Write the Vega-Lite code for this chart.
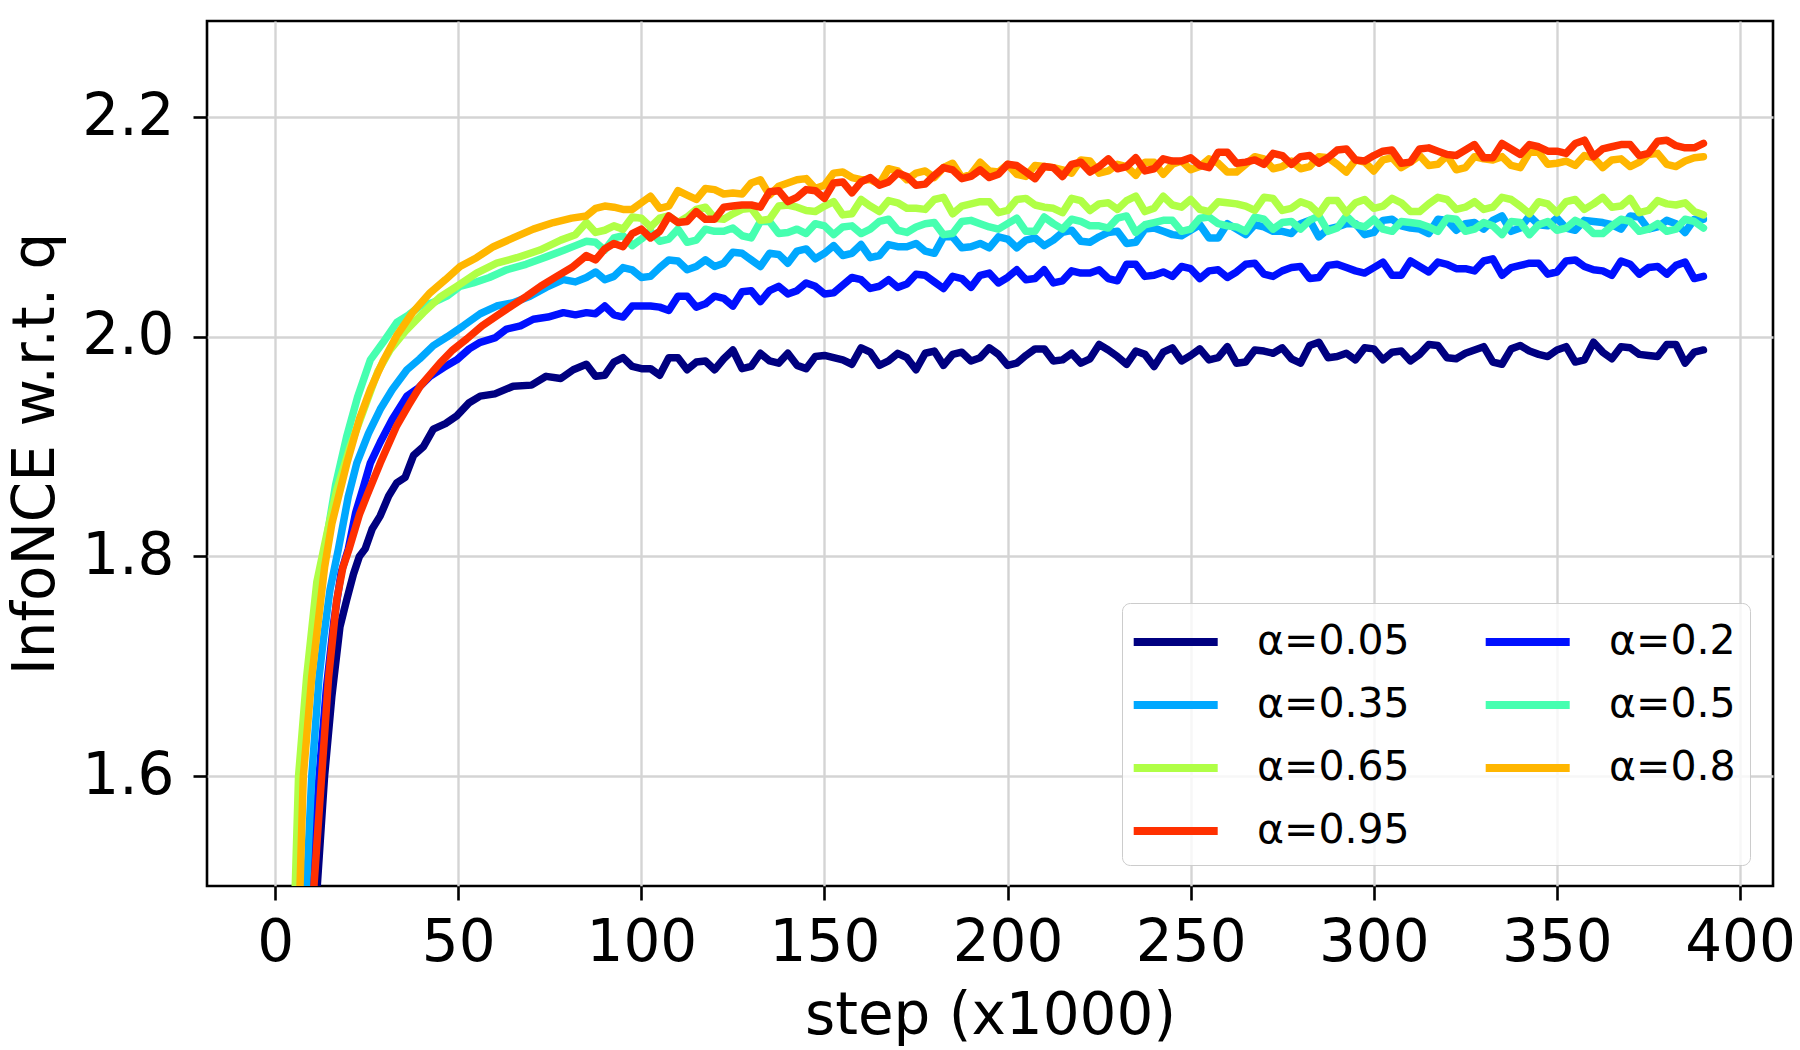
{
  "$schema": "https://vega.github.io/schema/vega-lite/v6.json",
  "width": 1566,
  "height": 865,
  "autosize": "none",
  "padding": {"left": 207, "top": 21, "right": 27, "bottom": 164},
  "background": "white",
  "config": {
    "font": "DejaVu Sans",
    "view": {"stroke": "#000000", "strokeWidth": 2.6},
    "axis": {
      "domain": false,
      "grid": true,
      "gridColor": "#d4d4d4",
      "gridWidth": 2.4,
      "tickColor": "#000000",
      "tickWidth": 2.6,
      "tickSize": 14,
      "labelFont": "DejaVu Sans",
      "labelFontSize": 58,
      "labelColor": "#000000",
      "labelFlush": false,
      "labelOverlap": false,
      "titleFont": "DejaVu Sans",
      "titleFontSize": 58,
      "titleFontWeight": "normal",
      "titleColor": "#000000"
    }
  },
  "data": {"values": [
    {"a":"α=0.05","s":8,"v":1.30},{"a":"α=0.05","s":11.5,"v":1.50},{"a":"α=0.05","s":13.5,"v":1.60},{"a":"α=0.05","s":15.5,"v":1.673},
    {"a":"α=0.05","s":17.7,"v":1.736},{"a":"α=0.05","s":19.5,"v":1.760},{"a":"α=0.05","s":21.4,"v":1.784},{"a":"α=0.05","s":23,"v":1.800},
    {"a":"α=0.05","s":24.6,"v":1.807},{"a":"α=0.05","s":26.5,"v":1.825},{"a":"α=0.05","s":28.7,"v":1.837},{"a":"α=0.05","s":31,"v":1.855},
    {"a":"α=0.05","s":33.2,"v":1.867},{"a":"α=0.05","s":35.5,"v":1.872},{"a":"α=0.05","s":37.8,"v":1.892},{"a":"α=0.05","s":40.5,"v":1.900},
    {"a":"α=0.05","s":43.2,"v":1.916},{"a":"α=0.05","s":46.5,"v":1.921},{"a":"α=0.05","s":49.6,"v":1.928},{"a":"α=0.05","s":53,"v":1.940},
    {"a":"α=0.05","s":56,"v":1.946},{"a":"α=0.05","s":60,"v":1.948},{"a":"α=0.05","s":65,"v":1.955},{"a":"α=0.05","s":70,"v":1.956},
    {"a":"α=0.05","s":74,"v":1.964},{"a":"α=0.05","s":78,"v":1.962},{"a":"α=0.05","s":81.4,"v":1.970},
    {"a":"α=0.05","s":85,"v":1.975},{"a":"α=0.05","s":90,"v":1.965},{"a":"α=0.05","s":95,"v":1.981},{"a":"α=0.05","s":100,"v":1.971},
    {"a":"α=0.05","s":105,"v":1.965},{"a":"α=0.05","s":110,"v":1.981},{"a":"α=0.05","s":115,"v":1.977},{"a":"α=0.05","s":120,"v":1.970},
    {"a":"α=0.05","s":125,"v":1.988},{"a":"α=0.05","s":130,"v":1.973},{"a":"α=0.05","s":135,"v":1.978},{"a":"α=0.05","s":140,"v":1.985},
    {"a":"α=0.05","s":145,"v":1.971},{"a":"α=0.05","s":150,"v":1.983},{"a":"α=0.05","s":155,"v":1.979},{"a":"α=0.05","s":160,"v":1.990},
    {"a":"α=0.05","s":165,"v":1.974},{"a":"α=0.05","s":170,"v":1.985},{"a":"α=0.05","s":175,"v":1.970},{"a":"α=0.05","s":180,"v":1.987},
    {"a":"α=0.05","s":185,"v":1.984},{"a":"α=0.05","s":190,"v":1.978},{"a":"α=0.05","s":195,"v":1.990},{"a":"α=0.05","s":200,"v":1.974},
    {"a":"α=0.05","s":205,"v":1.983},{"a":"α=0.05","s":210,"v":1.989},{"a":"α=0.05","s":215,"v":1.979},{"a":"α=0.05","s":220,"v":1.976},
    {"a":"α=0.05","s":225,"v":1.993},{"a":"α=0.05","s":230,"v":1.982},{"a":"α=0.05","s":235,"v":1.987},{"a":"α=0.05","s":240,"v":1.973},
    {"a":"α=0.05","s":245,"v":1.990},{"a":"α=0.05","s":250,"v":1.983},{"a":"α=0.05","s":255,"v":1.979},{"a":"α=0.05","s":260,"v":1.991},
    {"a":"α=0.05","s":265,"v":1.977},{"a":"α=0.05","s":270,"v":1.987},{"a":"α=0.05","s":275,"v":1.990},{"a":"α=0.05","s":280,"v":1.976},
    {"a":"α=0.05","s":285,"v":1.995},{"a":"α=0.05","s":290,"v":1.982},{"a":"α=0.05","s":295,"v":1.979},{"a":"α=0.05","s":300,"v":1.989},
    {"a":"α=0.05","s":305,"v":1.986},{"a":"α=0.05","s":310,"v":1.978},{"a":"α=0.05","s":315,"v":1.993},{"a":"α=0.05","s":320,"v":1.981},
    {"a":"α=0.05","s":325,"v":1.985},{"a":"α=0.05","s":330,"v":1.991},{"a":"α=0.05","s":335,"v":1.975},{"a":"α=0.05","s":340,"v":1.992},
    {"a":"α=0.05","s":345,"v":1.984},{"a":"α=0.05","s":350,"v":1.988},{"a":"α=0.05","s":355,"v":1.977},{"a":"α=0.05","s":360,"v":1.995},
    {"a":"α=0.05","s":365,"v":1.980},{"a":"α=0.05","s":370,"v":1.990},{"a":"α=0.05","s":375,"v":1.983},{"a":"α=0.05","s":380,"v":1.993},
    {"a":"α=0.05","s":385,"v":1.976},{"a":"α=0.05","s":390,"v":1.988},
    {"a":"α=0.05","s":87.5,"v":1.964},{"a":"α=0.05","s":92.5,"v":1.977},{"a":"α=0.05","s":97.5,"v":1.973},{"a":"α=0.05","s":102.5,"v":1.971},
    {"a":"α=0.05","s":107.5,"v":1.981},{"a":"α=0.05","s":112.5,"v":1.970},{"a":"α=0.05","s":117.5,"v":1.978},{"a":"α=0.05","s":122.5,"v":1.980},
    {"a":"α=0.05","s":127.5,"v":1.971},{"a":"α=0.05","s":132.5,"v":1.985},{"a":"α=0.05","s":137.5,"v":1.976},{"a":"α=0.05","s":142.5,"v":1.974},
    {"a":"α=0.05","s":147.5,"v":1.982},{"a":"α=0.05","s":152.5,"v":1.981},{"a":"α=0.05","s":157.5,"v":1.975},{"a":"α=0.05","s":162.5,"v":1.986},
    {"a":"α=0.05","s":167.5,"v":1.978},{"a":"α=0.05","s":172.5,"v":1.981},{"a":"α=0.05","s":177.5,"v":1.985},{"a":"α=0.05","s":182.5,"v":1.974},
    {"a":"α=0.05","s":187.5,"v":1.986},{"a":"α=0.05","s":192.5,"v":1.981},{"a":"α=0.05","s":197.5,"v":1.984},{"a":"α=0.05","s":202.5,"v":1.976},
    {"a":"α=0.05","s":207.5,"v":1.989},{"a":"α=0.05","s":212.5,"v":1.978},{"a":"α=0.05","s":217.5,"v":1.985},{"a":"α=0.05","s":222.5,"v":1.980},
    {"a":"α=0.05","s":227.5,"v":1.988},{"a":"α=0.05","s":232.5,"v":1.975},{"a":"α=0.05","s":237.5,"v":1.984},{"a":"α=0.05","s":242.5,"v":1.986},
    {"a":"α=0.05","s":247.5,"v":1.978},{"a":"α=0.05","s":252.5,"v":1.989},{"a":"α=0.05","s":257.5,"v":1.981},{"a":"α=0.05","s":262.5,"v":1.976},
    {"a":"α=0.05","s":267.5,"v":1.988},{"a":"α=0.05","s":272.5,"v":1.985},{"a":"α=0.05","s":277.5,"v":1.980},{"a":"α=0.05","s":282.5,"v":1.992},
    {"a":"α=0.05","s":287.5,"v":1.981},{"a":"α=0.05","s":292.5,"v":1.985},{"a":"α=0.05","s":297.5,"v":1.990},{"a":"α=0.05","s":302.5,"v":1.979},
    {"a":"α=0.05","s":307.5,"v":1.987},{"a":"α=0.05","s":312.5,"v":1.984},{"a":"α=0.05","s":317.5,"v":1.992},{"a":"α=0.05","s":322.5,"v":1.980},
    {"a":"α=0.05","s":327.5,"v":1.988},{"a":"α=0.05","s":332.5,"v":1.977},{"a":"α=0.05","s":337.5,"v":1.989},{"a":"α=0.05","s":342.5,"v":1.987},
    {"a":"α=0.05","s":347.5,"v":1.982},{"a":"α=0.05","s":352.5,"v":1.991},{"a":"α=0.05","s":357.5,"v":1.979},{"a":"α=0.05","s":362.5,"v":1.986},
    {"a":"α=0.05","s":367.5,"v":1.991},{"a":"α=0.05","s":372.5,"v":1.984},{"a":"α=0.05","s":377.5,"v":1.982},{"a":"α=0.05","s":382.5,"v":1.993},
    {"a":"α=0.05","s":387.5,"v":1.986},

    {"a":"α=0.2","s":7,"v":1.30},{"a":"α=0.2","s":10,"v":1.50},{"a":"α=0.2","s":12,"v":1.60},{"a":"α=0.2","s":14,"v":1.68},
    {"a":"α=0.2","s":16,"v":1.74},{"a":"α=0.2","s":18,"v":1.785},{"a":"α=0.2","s":20,"v":1.807},{"a":"α=0.2","s":22,"v":1.840},
    {"a":"α=0.2","s":24,"v":1.862},{"a":"α=0.2","s":26,"v":1.885},{"a":"α=0.2","s":28.7,"v":1.904},{"a":"α=0.2","s":32,"v":1.925},
    {"a":"α=0.2","s":36,"v":1.946},{"a":"α=0.2","s":39,"v":1.953},{"a":"α=0.2","s":42.3,"v":1.964},{"a":"α=0.2","s":46,"v":1.972},
    {"a":"α=0.2","s":49.6,"v":1.979},{"a":"α=0.2","s":53,"v":1.989},{"a":"α=0.2","s":56,"v":1.995},{"a":"α=0.2","s":60,"v":1.999},
    {"a":"α=0.2","s":63.2,"v":2.007},{"a":"α=0.2","s":67,"v":2.010},{"a":"α=0.2","s":70.5,"v":2.016},{"a":"α=0.2","s":74.5,"v":2.018},
    {"a":"α=0.2","s":78.7,"v":2.022},{"a":"α=0.2","s":82,"v":2.020},
    {"a":"α=0.2","s":85,"v":2.022},{"a":"α=0.2","s":90,"v":2.028},{"a":"α=0.2","s":95,"v":2.018},{"a":"α=0.2","s":100,"v":2.028},
    {"a":"α=0.2","s":105,"v":2.027},{"a":"α=0.2","s":110,"v":2.037},{"a":"α=0.2","s":115,"v":2.027},{"a":"α=0.2","s":120,"v":2.037},
    {"a":"α=0.2","s":125,"v":2.028},{"a":"α=0.2","s":130,"v":2.042},{"a":"α=0.2","s":135,"v":2.042},{"a":"α=0.2","s":140,"v":2.039},
    {"a":"α=0.2","s":145,"v":2.049},{"a":"α=0.2","s":150,"v":2.039},{"a":"α=0.2","s":155,"v":2.047},{"a":"α=0.2","s":160,"v":2.052},
    {"a":"α=0.2","s":165,"v":2.046},{"a":"α=0.2","s":170,"v":2.045},{"a":"α=0.2","s":175,"v":2.057},{"a":"α=0.2","s":180,"v":2.050},
    {"a":"α=0.2","s":185,"v":2.055},{"a":"α=0.2","s":190,"v":2.045},{"a":"α=0.2","s":195,"v":2.058},{"a":"α=0.2","s":200,"v":2.054},
    {"a":"α=0.2","s":205,"v":2.052},{"a":"α=0.2","s":210,"v":2.061},{"a":"α=0.2","s":215,"v":2.051},{"a":"α=0.2","s":220,"v":2.058},
    {"a":"α=0.2","s":225,"v":2.061},{"a":"α=0.2","s":230,"v":2.051},{"a":"α=0.2","s":235,"v":2.066},{"a":"α=0.2","s":240,"v":2.056},
    {"a":"α=0.2","s":245,"v":2.055},{"a":"α=0.2","s":250,"v":2.062},{"a":"α=0.2","s":255,"v":2.060},{"a":"α=0.2","s":260,"v":2.054},
    {"a":"α=0.2","s":265,"v":2.066},{"a":"α=0.2","s":270,"v":2.057},{"a":"α=0.2","s":275,"v":2.060},{"a":"α=0.2","s":280,"v":2.064},
    {"a":"α=0.2","s":285,"v":2.054},{"a":"α=0.2","s":290,"v":2.066},{"a":"α=0.2","s":295,"v":2.060},{"a":"α=0.2","s":300,"v":2.063},
    {"a":"α=0.2","s":305,"v":2.056},{"a":"α=0.2","s":310,"v":2.069},{"a":"α=0.2","s":315,"v":2.059},{"a":"α=0.2","s":320,"v":2.066},
    {"a":"α=0.2","s":325,"v":2.062},{"a":"α=0.2","s":330,"v":2.069},{"a":"α=0.2","s":335,"v":2.056},{"a":"α=0.2","s":340,"v":2.065},
    {"a":"α=0.2","s":345,"v":2.067},{"a":"α=0.2","s":350,"v":2.059},{"a":"α=0.2","s":355,"v":2.070},{"a":"α=0.2","s":360,"v":2.061},
    {"a":"α=0.2","s":365,"v":2.056},{"a":"α=0.2","s":370,"v":2.066},{"a":"α=0.2","s":375,"v":2.063},{"a":"α=0.2","s":380,"v":2.057},
    {"a":"α=0.2","s":385,"v":2.068},{"a":"α=0.2","s":390,"v":2.055},
    {"a":"α=0.2","s":87.5,"v":2.021},{"a":"α=0.2","s":92.5,"v":2.020},{"a":"α=0.2","s":97.5,"v":2.028},{"a":"α=0.2","s":102.5,"v":2.028},
    {"a":"α=0.2","s":107.5,"v":2.024},{"a":"α=0.2","s":112.5,"v":2.037},{"a":"α=0.2","s":117.5,"v":2.030},{"a":"α=0.2","s":122.5,"v":2.035},
    {"a":"α=0.2","s":127.5,"v":2.041},{"a":"α=0.2","s":132.5,"v":2.032},{"a":"α=0.2","s":137.5,"v":2.046},{"a":"α=0.2","s":142.5,"v":2.042},
    {"a":"α=0.2","s":147.5,"v":2.046},{"a":"α=0.2","s":152.5,"v":2.040},{"a":"α=0.2","s":157.5,"v":2.054},{"a":"α=0.2","s":162.5,"v":2.044},
    {"a":"α=0.2","s":167.5,"v":2.052},{"a":"α=0.2","s":172.5,"v":2.048},{"a":"α=0.2","s":177.5,"v":2.056},{"a":"α=0.2","s":182.5,"v":2.044},
    {"a":"α=0.2","s":187.5,"v":2.053},{"a":"α=0.2","s":192.5,"v":2.056},{"a":"α=0.2","s":197.5,"v":2.049},{"a":"α=0.2","s":202.5,"v":2.061},
    {"a":"α=0.2","s":207.5,"v":2.053},{"a":"α=0.2","s":212.5,"v":2.049},{"a":"α=0.2","s":217.5,"v":2.060},{"a":"α=0.2","s":222.5,"v":2.058},
    {"a":"α=0.2","s":227.5,"v":2.053},{"a":"α=0.2","s":232.5,"v":2.066},{"a":"α=0.2","s":237.5,"v":2.055},{"a":"α=0.2","s":242.5,"v":2.059},
    {"a":"α=0.2","s":247.5,"v":2.064},{"a":"α=0.2","s":252.5,"v":2.053},{"a":"α=0.2","s":257.5,"v":2.061},{"a":"α=0.2","s":262.5,"v":2.059},
    {"a":"α=0.2","s":267.5,"v":2.067},{"a":"α=0.2","s":272.5,"v":2.055},{"a":"α=0.2","s":277.5,"v":2.063},{"a":"α=0.2","s":282.5,"v":2.053},
    {"a":"α=0.2","s":287.5,"v":2.065},{"a":"α=0.2","s":292.5,"v":2.063},{"a":"α=0.2","s":297.5,"v":2.058},{"a":"α=0.2","s":302.5,"v":2.068},
    {"a":"α=0.2","s":307.5,"v":2.056},{"a":"α=0.2","s":312.5,"v":2.064},{"a":"α=0.2","s":317.5,"v":2.068},{"a":"α=0.2","s":322.5,"v":2.062},
    {"a":"α=0.2","s":327.5,"v":2.060},{"a":"α=0.2","s":332.5,"v":2.071},{"a":"α=0.2","s":337.5,"v":2.063},{"a":"α=0.2","s":342.5,"v":2.067},
    {"a":"α=0.2","s":347.5,"v":2.057},{"a":"α=0.2","s":352.5,"v":2.069},{"a":"α=0.2","s":357.5,"v":2.064},{"a":"α=0.2","s":362.5,"v":2.060},
    {"a":"α=0.2","s":367.5,"v":2.069},{"a":"α=0.2","s":372.5,"v":2.057},{"a":"α=0.2","s":377.5,"v":2.064},{"a":"α=0.2","s":382.5,"v":2.065},
    {"a":"α=0.2","s":387.5,"v":2.053},

    {"a":"α=0.35","s":6,"v":1.30},{"a":"α=0.35","s":8.6,"v":1.50},{"a":"α=0.35","s":10,"v":1.60},{"a":"α=0.35","s":12,"v":1.69},
    {"a":"α=0.35","s":13.2,"v":1.725},{"a":"α=0.35","s":15,"v":1.77},{"a":"α=0.35","s":17.3,"v":1.807},{"a":"α=0.35","s":20,"v":1.855},
    {"a":"α=0.35","s":22.3,"v":1.885},{"a":"α=0.35","s":25.5,"v":1.912},{"a":"α=0.35","s":28.7,"v":1.934},{"a":"α=0.35","s":32,"v":1.952},
    {"a":"α=0.35","s":36,"v":1.970},{"a":"α=0.35","s":39.5,"v":1.980},{"a":"α=0.35","s":43.2,"v":1.992},{"a":"α=0.35","s":47,"v":2.000},
    {"a":"α=0.35","s":51.4,"v":2.010},{"a":"α=0.35","s":56,"v":2.021},{"a":"α=0.35","s":60.5,"v":2.028},{"a":"α=0.35","s":65,"v":2.031},
    {"a":"α=0.35","s":69.6,"v":2.037},{"a":"α=0.35","s":74,"v":2.045},{"a":"α=0.35","s":78.7,"v":2.052},{"a":"α=0.35","s":82,"v":2.050},
    {"a":"α=0.35","s":85,"v":2.054},{"a":"α=0.35","s":90,"v":2.052},{"a":"α=0.35","s":95,"v":2.063},{"a":"α=0.35","s":100,"v":2.054},
    {"a":"α=0.35","s":105,"v":2.063},{"a":"α=0.35","s":110,"v":2.069},{"a":"α=0.35","s":115,"v":2.064},{"a":"α=0.35","s":120,"v":2.064},
    {"a":"α=0.35","s":125,"v":2.077},{"a":"α=0.35","s":130,"v":2.070},{"a":"α=0.35","s":135,"v":2.076},{"a":"α=0.35","s":140,"v":2.067},
    {"a":"α=0.35","s":145,"v":2.080},{"a":"α=0.35","s":150,"v":2.076},{"a":"α=0.35","s":155,"v":2.074},{"a":"α=0.35","s":160,"v":2.084},
    {"a":"α=0.35","s":165,"v":2.074},{"a":"α=0.35","s":170,"v":2.082},{"a":"α=0.35","s":175,"v":2.085},{"a":"α=0.35","s":180,"v":2.076},
    {"a":"α=0.35","s":185,"v":2.091},{"a":"α=0.35","s":190,"v":2.082},{"a":"α=0.35","s":195,"v":2.081},{"a":"α=0.35","s":200,"v":2.089},
    {"a":"α=0.35","s":205,"v":2.088},{"a":"α=0.35","s":210,"v":2.083},{"a":"α=0.35","s":215,"v":2.095},{"a":"α=0.35","s":220,"v":2.087},
    {"a":"α=0.35","s":225,"v":2.091},{"a":"α=0.35","s":230,"v":2.096},{"a":"α=0.35","s":235,"v":2.086},{"a":"α=0.35","s":240,"v":2.099},
    {"a":"α=0.35","s":245,"v":2.093},{"a":"α=0.35","s":250,"v":2.097},{"a":"α=0.35","s":255,"v":2.090},{"a":"α=0.35","s":260,"v":2.103},
    {"a":"α=0.35","s":265,"v":2.093},{"a":"α=0.35","s":270,"v":2.100},{"a":"α=0.35","s":275,"v":2.096},{"a":"α=0.35","s":280,"v":2.103},
    {"a":"α=0.35","s":285,"v":2.091},{"a":"α=0.35","s":290,"v":2.100},{"a":"α=0.35","s":295,"v":2.103},{"a":"α=0.35","s":300,"v":2.095},
    {"a":"α=0.35","s":305,"v":2.107},{"a":"α=0.35","s":310,"v":2.099},{"a":"α=0.35","s":315,"v":2.094},{"a":"α=0.35","s":320,"v":2.106},
    {"a":"α=0.35","s":325,"v":2.103},{"a":"α=0.35","s":330,"v":2.098},{"a":"α=0.35","s":335,"v":2.110},{"a":"α=0.35","s":340,"v":2.099},
    {"a":"α=0.35","s":345,"v":2.102},{"a":"α=0.35","s":350,"v":2.108},{"a":"α=0.35","s":355,"v":2.097},{"a":"α=0.35","s":360,"v":2.105},
    {"a":"α=0.35","s":365,"v":2.102},{"a":"α=0.35","s":370,"v":2.110},{"a":"α=0.35","s":375,"v":2.098},{"a":"α=0.35","s":380,"v":2.106},
    {"a":"α=0.35","s":385,"v":2.095},{"a":"α=0.35","s":390,"v":2.107},
    {"a":"α=0.35","s":87.5,"v":2.059},{"a":"α=0.35","s":92.5,"v":2.055},{"a":"α=0.35","s":97.5,"v":2.061},{"a":"α=0.35","s":102.5,"v":2.055},
    {"a":"α=0.35","s":107.5,"v":2.070},{"a":"α=0.35","s":112.5,"v":2.061},{"a":"α=0.35","s":117.5,"v":2.070},{"a":"α=0.35","s":122.5,"v":2.067},
    {"a":"α=0.35","s":127.5,"v":2.076},{"a":"α=0.35","s":132.5,"v":2.064},{"a":"α=0.35","s":137.5,"v":2.075},{"a":"α=0.35","s":142.5,"v":2.078},
    {"a":"α=0.35","s":147.5,"v":2.071},{"a":"α=0.35","s":152.5,"v":2.083},{"a":"α=0.35","s":157.5,"v":2.076},{"a":"α=0.35","s":162.5,"v":2.072},
    {"a":"α=0.35","s":167.5,"v":2.084},{"a":"α=0.35","s":172.5,"v":2.082},{"a":"α=0.35","s":177.5,"v":2.078},{"a":"α=0.35","s":182.5,"v":2.091},
    {"a":"α=0.35","s":187.5,"v":2.081},{"a":"α=0.35","s":192.5,"v":2.085},{"a":"α=0.35","s":197.5,"v":2.091},{"a":"α=0.35","s":202.5,"v":2.081},
    {"a":"α=0.35","s":207.5,"v":2.090},{"a":"α=0.35","s":212.5,"v":2.088},{"a":"α=0.35","s":217.5,"v":2.097},{"a":"α=0.35","s":222.5,"v":2.086},
    {"a":"α=0.35","s":227.5,"v":2.095},{"a":"α=0.35","s":232.5,"v":2.085},{"a":"α=0.35","s":237.5,"v":2.098},{"a":"α=0.35","s":242.5,"v":2.096},
    {"a":"α=0.35","s":247.5,"v":2.092},{"a":"α=0.35","s":252.5,"v":2.102},{"a":"α=0.35","s":257.5,"v":2.090},{"a":"α=0.35","s":262.5,"v":2.098},
    {"a":"α=0.35","s":267.5,"v":2.102},{"a":"α=0.35","s":272.5,"v":2.096},{"a":"α=0.35","s":277.5,"v":2.094},{"a":"α=0.35","s":282.5,"v":2.106},
    {"a":"α=0.35","s":287.5,"v":2.098},{"a":"α=0.35","s":292.5,"v":2.103},{"a":"α=0.35","s":297.5,"v":2.093},{"a":"α=0.35","s":302.5,"v":2.106},
    {"a":"α=0.35","s":307.5,"v":2.101},{"a":"α=0.35","s":312.5,"v":2.098},{"a":"α=0.35","s":317.5,"v":2.107},{"a":"α=0.35","s":322.5,"v":2.097},
    {"a":"α=0.35","s":327.5,"v":2.104},{"a":"α=0.35","s":332.5,"v":2.106},{"a":"α=0.35","s":337.5,"v":2.096},{"a":"α=0.35","s":342.5,"v":2.110},
    {"a":"α=0.35","s":347.5,"v":2.101},{"a":"α=0.35","s":352.5,"v":2.099},{"a":"α=0.35","s":357.5,"v":2.106},{"a":"α=0.35","s":362.5,"v":2.104},
    {"a":"α=0.35","s":367.5,"v":2.098},{"a":"α=0.35","s":372.5,"v":2.109},{"a":"α=0.35","s":377.5,"v":2.100},{"a":"α=0.35","s":382.5,"v":2.103},
    {"a":"α=0.35","s":387.5,"v":2.107},

    {"a":"α=0.5","s":4.5,"v":1.30},{"a":"α=0.5","s":6.3,"v":1.50},{"a":"α=0.5","s":7.3,"v":1.60},{"a":"α=0.5","s":9.5,"v":1.69},
    {"a":"α=0.5","s":11.8,"v":1.76},{"a":"α=0.5","s":13.6,"v":1.807},{"a":"α=0.5","s":16.5,"v":1.865},{"a":"α=0.5","s":19.6,"v":1.910},
    {"a":"α=0.5","s":22.5,"v":1.945},{"a":"α=0.5","s":26,"v":1.979},{"a":"α=0.5","s":29.5,"v":1.995},{"a":"α=0.5","s":33.2,"v":2.013},
    {"a":"α=0.5","s":36.5,"v":2.020},{"a":"α=0.5","s":39.6,"v":2.028},{"a":"α=0.5","s":43,"v":2.031},{"a":"α=0.5","s":46.9,"v":2.037},
    {"a":"α=0.5","s":50.5,"v":2.046},{"a":"α=0.5","s":54.1,"v":2.049},{"a":"α=0.5","s":58.5,"v":2.054},{"a":"α=0.5","s":63.2,"v":2.061},
    {"a":"α=0.5","s":68.5,"v":2.066},{"a":"α=0.5","s":74.2,"v":2.073},{"a":"α=0.5","s":79,"v":2.079},{"a":"α=0.5","s":82,"v":2.083},
    {"a":"α=0.5","s":85,"v":2.087},{"a":"α=0.5","s":90,"v":2.079},{"a":"α=0.5","s":95,"v":2.092},{"a":"α=0.5","s":100,"v":2.089},
    {"a":"α=0.5","s":105,"v":2.087},{"a":"α=0.5","s":110,"v":2.098},{"a":"α=0.5","s":115,"v":2.088},{"a":"α=0.5","s":120,"v":2.096},
    {"a":"α=0.5","s":125,"v":2.099},{"a":"α=0.5","s":130,"v":2.090},{"a":"α=0.5","s":135,"v":2.105},{"a":"α=0.5","s":140,"v":2.095},
    {"a":"α=0.5","s":145,"v":2.094},{"a":"α=0.5","s":150,"v":2.101},{"a":"α=0.5","s":155,"v":2.100},{"a":"α=0.5","s":160,"v":2.094},
    {"a":"α=0.5","s":165,"v":2.105},{"a":"α=0.5","s":170,"v":2.097},{"a":"α=0.5","s":175,"v":2.100},{"a":"α=0.5","s":180,"v":2.104},
    {"a":"α=0.5","s":185,"v":2.094},{"a":"α=0.5","s":190,"v":2.106},{"a":"α=0.5","s":195,"v":2.100},{"a":"α=0.5","s":200,"v":2.103},
    {"a":"α=0.5","s":205,"v":2.096},{"a":"α=0.5","s":210,"v":2.109},{"a":"α=0.5","s":215,"v":2.098},{"a":"α=0.5","s":220,"v":2.105},
    {"a":"α=0.5","s":225,"v":2.101},{"a":"α=0.5","s":230,"v":2.108},{"a":"α=0.5","s":235,"v":2.095},{"a":"α=0.5","s":240,"v":2.104},
    {"a":"α=0.5","s":245,"v":2.106},{"a":"α=0.5","s":250,"v":2.098},{"a":"α=0.5","s":255,"v":2.109},{"a":"α=0.5","s":260,"v":2.101},
    {"a":"α=0.5","s":265,"v":2.096},{"a":"α=0.5","s":270,"v":2.107},{"a":"α=0.5","s":275,"v":2.104},{"a":"α=0.5","s":280,"v":2.098},
    {"a":"α=0.5","s":285,"v":2.110},{"a":"α=0.5","s":290,"v":2.099},{"a":"α=0.5","s":295,"v":2.102},{"a":"α=0.5","s":300,"v":2.107},
    {"a":"α=0.5","s":305,"v":2.096},{"a":"α=0.5","s":310,"v":2.104},{"a":"α=0.5","s":315,"v":2.100},{"a":"α=0.5","s":320,"v":2.108},
    {"a":"α=0.5","s":325,"v":2.096},{"a":"α=0.5","s":330,"v":2.104},{"a":"α=0.5","s":335,"v":2.093},{"a":"α=0.5","s":340,"v":2.104},
    {"a":"α=0.5","s":345,"v":2.102},{"a":"α=0.5","s":350,"v":2.097},{"a":"α=0.5","s":355,"v":2.106},{"a":"α=0.5","s":360,"v":2.094},
    {"a":"α=0.5","s":365,"v":2.101},{"a":"α=0.5","s":370,"v":2.105},{"a":"α=0.5","s":375,"v":2.098},{"a":"α=0.5","s":380,"v":2.096},
    {"a":"α=0.5","s":385,"v":2.107},{"a":"α=0.5","s":390,"v":2.099},
    {"a":"α=0.5","s":87.5,"v":2.086},{"a":"α=0.5","s":92.5,"v":2.090},{"a":"α=0.5","s":97.5,"v":2.083},{"a":"α=0.5","s":102.5,"v":2.096},
    {"a":"α=0.5","s":107.5,"v":2.089},{"a":"α=0.5","s":112.5,"v":2.086},{"a":"α=0.5","s":117.5,"v":2.098},{"a":"α=0.5","s":122.5,"v":2.096},
    {"a":"α=0.5","s":127.5,"v":2.092},{"a":"α=0.5","s":132.5,"v":2.105},{"a":"α=0.5","s":137.5,"v":2.094},{"a":"α=0.5","s":142.5,"v":2.098},
    {"a":"α=0.5","s":147.5,"v":2.103},{"a":"α=0.5","s":152.5,"v":2.093},{"a":"α=0.5","s":157.5,"v":2.101},{"a":"α=0.5","s":162.5,"v":2.098},
    {"a":"α=0.5","s":167.5,"v":2.107},{"a":"α=0.5","s":172.5,"v":2.095},{"a":"α=0.5","s":177.5,"v":2.103},{"a":"α=0.5","s":182.5,"v":2.093},
    {"a":"α=0.5","s":187.5,"v":2.105},{"a":"α=0.5","s":192.5,"v":2.103},{"a":"α=0.5","s":197.5,"v":2.098},{"a":"α=0.5","s":202.5,"v":2.108},
    {"a":"α=0.5","s":207.5,"v":2.096},{"a":"α=0.5","s":212.5,"v":2.103},{"a":"α=0.5","s":217.5,"v":2.107},{"a":"α=0.5","s":222.5,"v":2.101},
    {"a":"α=0.5","s":227.5,"v":2.099},{"a":"α=0.5","s":232.5,"v":2.110},{"a":"α=0.5","s":237.5,"v":2.102},{"a":"α=0.5","s":242.5,"v":2.106},
    {"a":"α=0.5","s":247.5,"v":2.096},{"a":"α=0.5","s":252.5,"v":2.108},{"a":"α=0.5","s":257.5,"v":2.103},{"a":"α=0.5","s":262.5,"v":2.100},
    {"a":"α=0.5","s":267.5,"v":2.109},{"a":"α=0.5","s":272.5,"v":2.098},{"a":"α=0.5","s":277.5,"v":2.105},{"a":"α=0.5","s":282.5,"v":2.106},
    {"a":"α=0.5","s":287.5,"v":2.096},{"a":"α=0.5","s":292.5,"v":2.110},{"a":"α=0.5","s":297.5,"v":2.100},{"a":"α=0.5","s":302.5,"v":2.098},
    {"a":"α=0.5","s":307.5,"v":2.105},{"a":"α=0.5","s":312.5,"v":2.103},{"a":"α=0.5","s":317.5,"v":2.096},{"a":"α=0.5","s":322.5,"v":2.107},
    {"a":"α=0.5","s":327.5,"v":2.098},{"a":"α=0.5","s":332.5,"v":2.101},{"a":"α=0.5","s":337.5,"v":2.105},{"a":"α=0.5","s":342.5,"v":2.093},
    {"a":"α=0.5","s":347.5,"v":2.105},{"a":"α=0.5","s":352.5,"v":2.099},{"a":"α=0.5","s":357.5,"v":2.102},{"a":"α=0.5","s":362.5,"v":2.094},
    {"a":"α=0.5","s":367.5,"v":2.107},{"a":"α=0.5","s":372.5,"v":2.096},{"a":"α=0.5","s":377.5,"v":2.103},{"a":"α=0.5","s":382.5,"v":2.098},
    {"a":"α=0.5","s":387.5,"v":2.105},

    {"a":"α=0.65","s":3.5,"v":1.30},{"a":"α=0.65","s":5.5,"v":1.50},{"a":"α=0.65","s":6.4,"v":1.60},{"a":"α=0.65","s":8.6,"v":1.69},
    {"a":"α=0.65","s":11.4,"v":1.777},{"a":"α=0.65","s":14.1,"v":1.820},{"a":"α=0.65","s":16.8,"v":1.860},{"a":"α=0.65","s":20.5,"v":1.900},
    {"a":"α=0.65","s":25,"v":1.941},{"a":"α=0.65","s":28,"v":1.968},{"a":"α=0.65","s":31.4,"v":1.988},{"a":"α=0.65","s":35.5,"v":2.005},
    {"a":"α=0.65","s":40.5,"v":2.022},{"a":"α=0.65","s":45,"v":2.036},{"a":"α=0.65","s":49.6,"v":2.046},{"a":"α=0.65","s":55,"v":2.058},
    {"a":"α=0.65","s":60.5,"v":2.067},{"a":"α=0.65","s":66,"v":2.072},{"a":"α=0.65","s":72.3,"v":2.079},{"a":"α=0.65","s":78,"v":2.088},
    {"a":"α=0.65","s":82,"v":2.093},
    {"a":"α=0.65","s":85,"v":2.104},{"a":"α=0.65","s":90,"v":2.097},{"a":"α=0.65","s":95,"v":2.098},{"a":"α=0.65","s":100,"v":2.108},
    {"a":"α=0.65","s":105,"v":2.108},{"a":"α=0.65","s":110,"v":2.104},{"a":"α=0.65","s":115,"v":2.116},{"a":"α=0.65","s":120,"v":2.108},
    {"a":"α=0.65","s":125,"v":2.112},{"a":"α=0.65","s":130,"v":2.117},{"a":"α=0.65","s":135,"v":2.107},{"a":"α=0.65","s":140,"v":2.120},
    {"a":"α=0.65","s":145,"v":2.115},{"a":"α=0.65","s":150,"v":2.119},{"a":"α=0.65","s":155,"v":2.111},{"a":"α=0.65","s":160,"v":2.125},
    {"a":"α=0.65","s":165,"v":2.114},{"a":"α=0.65","s":170,"v":2.122},{"a":"α=0.65","s":175,"v":2.117},{"a":"α=0.65","s":180,"v":2.125},
    {"a":"α=0.65","s":185,"v":2.112},{"a":"α=0.65","s":190,"v":2.121},{"a":"α=0.65","s":195,"v":2.123},{"a":"α=0.65","s":200,"v":2.115},
    {"a":"α=0.65","s":205,"v":2.126},{"a":"α=0.65","s":210,"v":2.118},{"a":"α=0.65","s":215,"v":2.113},{"a":"α=0.65","s":220,"v":2.124},
    {"a":"α=0.65","s":225,"v":2.121},{"a":"α=0.65","s":230,"v":2.116},{"a":"α=0.65","s":235,"v":2.128},{"a":"α=0.65","s":240,"v":2.117},
    {"a":"α=0.65","s":245,"v":2.120},{"a":"α=0.65","s":250,"v":2.125},{"a":"α=0.65","s":255,"v":2.114},{"a":"α=0.65","s":260,"v":2.122},
    {"a":"α=0.65","s":265,"v":2.119},{"a":"α=0.65","s":270,"v":2.127},{"a":"α=0.65","s":275,"v":2.115},{"a":"α=0.65","s":280,"v":2.123},
    {"a":"α=0.65","s":285,"v":2.112},{"a":"α=0.65","s":290,"v":2.124},{"a":"α=0.65","s":295,"v":2.122},{"a":"α=0.65","s":300,"v":2.117},
    {"a":"α=0.65","s":305,"v":2.126},{"a":"α=0.65","s":310,"v":2.114},{"a":"α=0.65","s":315,"v":2.121},{"a":"α=0.65","s":320,"v":2.125},
    {"a":"α=0.65","s":325,"v":2.118},{"a":"α=0.65","s":330,"v":2.116},{"a":"α=0.65","s":335,"v":2.127},{"a":"α=0.65","s":340,"v":2.119},
    {"a":"α=0.65","s":345,"v":2.123},{"a":"α=0.65","s":350,"v":2.113},{"a":"α=0.65","s":355,"v":2.125},{"a":"α=0.65","s":360,"v":2.121},
    {"a":"α=0.65","s":365,"v":2.118},{"a":"α=0.65","s":370,"v":2.126},{"a":"α=0.65","s":375,"v":2.115},{"a":"α=0.65","s":380,"v":2.121},
    {"a":"α=0.65","s":385,"v":2.122},{"a":"α=0.65","s":390,"v":2.111},
    {"a":"α=0.65","s":87.5,"v":2.095},{"a":"α=0.65","s":92.5,"v":2.101},{"a":"α=0.65","s":97.5,"v":2.109},{"a":"α=0.65","s":102.5,"v":2.100},
    {"a":"α=0.65","s":107.5,"v":2.110},{"a":"α=0.65","s":112.5,"v":2.109},{"a":"α=0.65","s":117.5,"v":2.118},{"a":"α=0.65","s":122.5,"v":2.107},
    {"a":"α=0.65","s":127.5,"v":2.116},{"a":"α=0.65","s":132.5,"v":2.106},{"a":"α=0.65","s":137.5,"v":2.119},{"a":"α=0.65","s":142.5,"v":2.118},
    {"a":"α=0.65","s":147.5,"v":2.114},{"a":"α=0.65","s":152.5,"v":2.123},{"a":"α=0.65","s":157.5,"v":2.112},{"a":"α=0.65","s":162.5,"v":2.119},
    {"a":"α=0.65","s":167.5,"v":2.124},{"a":"α=0.65","s":172.5,"v":2.117},{"a":"α=0.65","s":177.5,"v":2.116},{"a":"α=0.65","s":182.5,"v":2.127},
    {"a":"α=0.65","s":187.5,"v":2.119},{"a":"α=0.65","s":192.5,"v":2.123},{"a":"α=0.65","s":197.5,"v":2.113},{"a":"α=0.65","s":202.5,"v":2.125},
    {"a":"α=0.65","s":207.5,"v":2.120},{"a":"α=0.65","s":212.5,"v":2.117},{"a":"α=0.65","s":217.5,"v":2.126},{"a":"α=0.65","s":222.5,"v":2.115},
    {"a":"α=0.65","s":227.5,"v":2.122},{"a":"α=0.65","s":232.5,"v":2.124},{"a":"α=0.65","s":237.5,"v":2.114},{"a":"α=0.65","s":242.5,"v":2.128},
    {"a":"α=0.65","s":247.5,"v":2.118},{"a":"α=0.65","s":252.5,"v":2.116},{"a":"α=0.65","s":257.5,"v":2.123},{"a":"α=0.65","s":262.5,"v":2.121},
    {"a":"α=0.65","s":267.5,"v":2.115},{"a":"α=0.65","s":272.5,"v":2.126},{"a":"α=0.65","s":277.5,"v":2.117},{"a":"α=0.65","s":282.5,"v":2.120},
    {"a":"α=0.65","s":287.5,"v":2.124},{"a":"α=0.65","s":292.5,"v":2.113},{"a":"α=0.65","s":297.5,"v":2.125},{"a":"α=0.65","s":302.5,"v":2.119},
    {"a":"α=0.65","s":307.5,"v":2.122},{"a":"α=0.65","s":312.5,"v":2.114},{"a":"α=0.65","s":317.5,"v":2.127},{"a":"α=0.65","s":322.5,"v":2.116},
    {"a":"α=0.65","s":327.5,"v":2.123},{"a":"α=0.65","s":332.5,"v":2.118},{"a":"α=0.65","s":337.5,"v":2.125},{"a":"α=0.65","s":342.5,"v":2.112},
    {"a":"α=0.65","s":347.5,"v":2.121},{"a":"α=0.65","s":352.5,"v":2.123},{"a":"α=0.65","s":357.5,"v":2.116},{"a":"α=0.65","s":362.5,"v":2.127},
    {"a":"α=0.65","s":367.5,"v":2.119},{"a":"α=0.65","s":372.5,"v":2.113},{"a":"α=0.65","s":377.5,"v":2.124},{"a":"α=0.65","s":382.5,"v":2.120},
    {"a":"α=0.65","s":387.5,"v":2.114},

    {"a":"α=0.8","s":5,"v":1.30},{"a":"α=0.8","s":6.8,"v":1.50},{"a":"α=0.8","s":7.7,"v":1.60},{"a":"α=0.8","s":10,"v":1.690},
    {"a":"α=0.8","s":13.5,"v":1.790},{"a":"α=0.8","s":15.5,"v":1.83},{"a":"α=0.8","s":19.6,"v":1.885},{"a":"α=0.8","s":23,"v":1.925},
    {"a":"α=0.8","s":26,"v":1.952},{"a":"α=0.8","s":29.5,"v":1.978},{"a":"α=0.8","s":33.2,"v":2.001},{"a":"α=0.8","s":37.5,"v":2.022},
    {"a":"α=0.8","s":42.3,"v":2.040},{"a":"α=0.8","s":46.5,"v":2.052},{"a":"α=0.8","s":50.5,"v":2.064},{"a":"α=0.8","s":55,"v":2.072},
    {"a":"α=0.8","s":59.6,"v":2.082},{"a":"α=0.8","s":65,"v":2.090},{"a":"α=0.8","s":70.5,"v":2.098},{"a":"α=0.8","s":76,"v":2.104},
    {"a":"α=0.8","s":81,"v":2.108},
    {"a":"α=0.8","s":85,"v":2.110},{"a":"α=0.8","s":90,"v":2.119},{"a":"α=0.8","s":95,"v":2.116},{"a":"α=0.8","s":100,"v":2.122},
    {"a":"α=0.8","s":105,"v":2.117},{"a":"α=0.8","s":110,"v":2.133},{"a":"α=0.8","s":115,"v":2.125},{"a":"α=0.8","s":120,"v":2.134},
    {"a":"α=0.8","s":125,"v":2.131},{"a":"α=0.8","s":130,"v":2.140},{"a":"α=0.8","s":135,"v":2.129},{"a":"α=0.8","s":140,"v":2.140},
    {"a":"α=0.8","s":145,"v":2.144},{"a":"α=0.8","s":150,"v":2.138},{"a":"α=0.8","s":155,"v":2.150},{"a":"α=0.8","s":160,"v":2.143},
    {"a":"α=0.8","s":165,"v":2.139},{"a":"α=0.8","s":170,"v":2.151},{"a":"α=0.8","s":175,"v":2.149},{"a":"α=0.8","s":180,"v":2.145},
    {"a":"α=0.8","s":185,"v":2.158},{"a":"α=0.8","s":190,"v":2.148},{"a":"α=0.8","s":195,"v":2.151},{"a":"α=0.8","s":200,"v":2.157},
    {"a":"α=0.8","s":205,"v":2.146},{"a":"α=0.8","s":210,"v":2.155},{"a":"α=0.8","s":215,"v":2.152},{"a":"α=0.8","s":220,"v":2.161},
    {"a":"α=0.8","s":225,"v":2.149},{"a":"α=0.8","s":230,"v":2.157},{"a":"α=0.8","s":235,"v":2.147},{"a":"α=0.8","s":240,"v":2.159},
    {"a":"α=0.8","s":245,"v":2.157},{"a":"α=0.8","s":250,"v":2.152},{"a":"α=0.8","s":255,"v":2.162},{"a":"α=0.8","s":260,"v":2.150},
    {"a":"α=0.8","s":265,"v":2.157},{"a":"α=0.8","s":270,"v":2.162},{"a":"α=0.8","s":275,"v":2.155},{"a":"α=0.8","s":280,"v":2.153},
    {"a":"α=0.8","s":285,"v":2.164},{"a":"α=0.8","s":290,"v":2.157},{"a":"α=0.8","s":295,"v":2.161},{"a":"α=0.8","s":300,"v":2.151},
    {"a":"α=0.8","s":305,"v":2.163},{"a":"α=0.8","s":310,"v":2.159},{"a":"α=0.8","s":315,"v":2.156},{"a":"α=0.8","s":320,"v":2.165},
    {"a":"α=0.8","s":325,"v":2.154},{"a":"α=0.8","s":330,"v":2.162},{"a":"α=0.8","s":335,"v":2.164},{"a":"α=0.8","s":340,"v":2.154},
    {"a":"α=0.8","s":345,"v":2.168},{"a":"α=0.8","s":350,"v":2.158},{"a":"α=0.8","s":355,"v":2.156},{"a":"α=0.8","s":360,"v":2.163},
    {"a":"α=0.8","s":365,"v":2.161},{"a":"α=0.8","s":370,"v":2.155},{"a":"α=0.8","s":375,"v":2.166},{"a":"α=0.8","s":380,"v":2.157},
    {"a":"α=0.8","s":385,"v":2.160},{"a":"α=0.8","s":390,"v":2.164},
    {"a":"α=0.8","s":87.5,"v":2.117},{"a":"α=0.8","s":92.5,"v":2.118},{"a":"α=0.8","s":97.5,"v":2.116},{"a":"α=0.8","s":102.5,"v":2.128},
    {"a":"α=0.8","s":107.5,"v":2.119},{"a":"α=0.8","s":112.5,"v":2.129},{"a":"α=0.8","s":117.5,"v":2.135},{"a":"α=0.8","s":122.5,"v":2.130},
    {"a":"α=0.8","s":127.5,"v":2.130},{"a":"α=0.8","s":132.5,"v":2.143},{"a":"α=0.8","s":137.5,"v":2.137},{"a":"α=0.8","s":142.5,"v":2.143},
    {"a":"α=0.8","s":147.5,"v":2.135},{"a":"α=0.8","s":152.5,"v":2.149},{"a":"α=0.8","s":157.5,"v":2.145},{"a":"α=0.8","s":162.5,"v":2.143},
    {"a":"α=0.8","s":167.5,"v":2.153},{"a":"α=0.8","s":172.5,"v":2.143},{"a":"α=0.8","s":177.5,"v":2.151},{"a":"α=0.8","s":182.5,"v":2.154},
    {"a":"α=0.8","s":187.5,"v":2.145},{"a":"α=0.8","s":192.5,"v":2.159},{"a":"α=0.8","s":197.5,"v":2.150},{"a":"α=0.8","s":202.5,"v":2.148},
    {"a":"α=0.8","s":207.5,"v":2.156},{"a":"α=0.8","s":212.5,"v":2.154},{"a":"α=0.8","s":217.5,"v":2.149},{"a":"α=0.8","s":222.5,"v":2.160},
    {"a":"α=0.8","s":227.5,"v":2.151},{"a":"α=0.8","s":232.5,"v":2.155},{"a":"α=0.8","s":237.5,"v":2.159},{"a":"α=0.8","s":242.5,"v":2.148},
    {"a":"α=0.8","s":247.5,"v":2.160},{"a":"α=0.8","s":252.5,"v":2.155},{"a":"α=0.8","s":257.5,"v":2.158},{"a":"α=0.8","s":262.5,"v":2.150},
    {"a":"α=0.8","s":267.5,"v":2.164},{"a":"α=0.8","s":272.5,"v":2.153},{"a":"α=0.8","s":277.5,"v":2.160},{"a":"α=0.8","s":282.5,"v":2.155},
    {"a":"α=0.8","s":287.5,"v":2.163},{"a":"α=0.8","s":292.5,"v":2.150},{"a":"α=0.8","s":297.5,"v":2.159},{"a":"α=0.8","s":302.5,"v":2.161},
    {"a":"α=0.8","s":307.5,"v":2.154},{"a":"α=0.8","s":312.5,"v":2.165},{"a":"α=0.8","s":317.5,"v":2.157},{"a":"α=0.8","s":322.5,"v":2.152},
    {"a":"α=0.8","s":327.5,"v":2.164},{"a":"α=0.8","s":332.5,"v":2.161},{"a":"α=0.8","s":337.5,"v":2.156},{"a":"α=0.8","s":342.5,"v":2.168},
    {"a":"α=0.8","s":347.5,"v":2.157},{"a":"α=0.8","s":352.5,"v":2.160},{"a":"α=0.8","s":357.5,"v":2.165},{"a":"α=0.8","s":362.5,"v":2.154},
    {"a":"α=0.8","s":367.5,"v":2.162},{"a":"α=0.8","s":372.5,"v":2.159},{"a":"α=0.8","s":377.5,"v":2.167},{"a":"α=0.8","s":382.5,"v":2.155},
    {"a":"α=0.8","s":387.5,"v":2.163},

    {"a":"α=0.95","s":8.5,"v":1.30},{"a":"α=0.95","s":10.6,"v":1.50},{"a":"α=0.95","s":12.7,"v":1.60},{"a":"α=0.95","s":14.6,"v":1.69},
    {"a":"α=0.95","s":16.8,"v":1.76},{"a":"α=0.95","s":18.5,"v":1.79},{"a":"α=0.95","s":20.3,"v":1.808},{"a":"α=0.95","s":23,"v":1.838},
    {"a":"α=0.95","s":25,"v":1.855},{"a":"α=0.95","s":28.7,"v":1.885},{"a":"α=0.95","s":33.2,"v":1.919},{"a":"α=0.95","s":36.5,"v":1.938},
    {"a":"α=0.95","s":39.6,"v":1.955},{"a":"α=0.95","s":45,"v":1.976},{"a":"α=0.95","s":48.5,"v":1.988},{"a":"α=0.95","s":52.3,"v":1.998},
    {"a":"α=0.95","s":56.5,"v":2.010},{"a":"α=0.95","s":60.5,"v":2.019},{"a":"α=0.95","s":64.5,"v":2.028},{"a":"α=0.95","s":68.7,"v":2.037},
    {"a":"α=0.95","s":72.5,"v":2.046},{"a":"α=0.95","s":76.9,"v":2.055},{"a":"α=0.95","s":81,"v":2.063},
    {"a":"α=0.95","s":85,"v":2.074},{"a":"α=0.95","s":90,"v":2.080},{"a":"α=0.95","s":95,"v":2.082},{"a":"α=0.95","s":100,"v":2.098},
    {"a":"α=0.95","s":105,"v":2.096},{"a":"α=0.95","s":110,"v":2.104},{"a":"α=0.95","s":115,"v":2.114},{"a":"α=0.95","s":120,"v":2.107},
    {"a":"α=0.95","s":125,"v":2.119},{"a":"α=0.95","s":130,"v":2.120},{"a":"α=0.95","s":135,"v":2.132},{"a":"α=0.95","s":140,"v":2.123},
    {"a":"α=0.95","s":145,"v":2.134},{"a":"α=0.95","s":150,"v":2.126},{"a":"α=0.95","s":155,"v":2.141},{"a":"α=0.95","s":160,"v":2.141},
    {"a":"α=0.95","s":165,"v":2.138},{"a":"α=0.95","s":170,"v":2.149},{"a":"α=0.95","s":175,"v":2.138},{"a":"α=0.95","s":180,"v":2.147},
    {"a":"α=0.95","s":185,"v":2.152},{"a":"α=0.95","s":190,"v":2.146},{"a":"α=0.95","s":195,"v":2.145},{"a":"α=0.95","s":200,"v":2.157},
    {"a":"α=0.95","s":205,"v":2.150},{"a":"α=0.95","s":210,"v":2.155},{"a":"α=0.95","s":215,"v":2.146},{"a":"α=0.95","s":220,"v":2.159},
    {"a":"α=0.95","s":225,"v":2.155},{"a":"α=0.95","s":230,"v":2.153},{"a":"α=0.95","s":235,"v":2.163},{"a":"α=0.95","s":240,"v":2.153},
    {"a":"α=0.95","s":245,"v":2.160},{"a":"α=0.95","s":250,"v":2.163},{"a":"α=0.95","s":255,"v":2.154},{"a":"α=0.95","s":260,"v":2.168},
    {"a":"α=0.95","s":265,"v":2.159},{"a":"α=0.95","s":270,"v":2.157},{"a":"α=0.95","s":275,"v":2.165},{"a":"α=0.95","s":280,"v":2.164},
    {"a":"α=0.95","s":285,"v":2.158},{"a":"α=0.95","s":290,"v":2.170},{"a":"α=0.95","s":295,"v":2.161},{"a":"α=0.95","s":300,"v":2.165},
    {"a":"α=0.95","s":305,"v":2.170},{"a":"α=0.95","s":310,"v":2.159},{"a":"α=0.95","s":315,"v":2.172},{"a":"α=0.95","s":320,"v":2.166},
    {"a":"α=0.95","s":325,"v":2.170},{"a":"α=0.95","s":330,"v":2.163},{"a":"α=0.95","s":335,"v":2.176},{"a":"α=0.95","s":340,"v":2.166},
    {"a":"α=0.95","s":345,"v":2.173},{"a":"α=0.95","s":350,"v":2.169},{"a":"α=0.95","s":355,"v":2.176},{"a":"α=0.95","s":360,"v":2.164},
    {"a":"α=0.95","s":365,"v":2.173},{"a":"α=0.95","s":370,"v":2.175},{"a":"α=0.95","s":375,"v":2.167},{"a":"α=0.95","s":380,"v":2.179},
    {"a":"α=0.95","s":385,"v":2.172},{"a":"α=0.95","s":390,"v":2.176},
    {"a":"α=0.95","s":87.5,"v":2.070},{"a":"α=0.95","s":92.5,"v":2.085},{"a":"α=0.95","s":97.5,"v":2.094},{"a":"α=0.95","s":102.5,"v":2.090},
    {"a":"α=0.95","s":107.5,"v":2.110},{"a":"α=0.95","s":112.5,"v":2.105},{"a":"α=0.95","s":117.5,"v":2.107},{"a":"α=0.95","s":122.5,"v":2.118},
    {"a":"α=0.95","s":127.5,"v":2.120},{"a":"α=0.95","s":132.5,"v":2.118},{"a":"α=0.95","s":137.5,"v":2.133},{"a":"α=0.95","s":142.5,"v":2.127},
    {"a":"α=0.95","s":147.5,"v":2.133},{"a":"α=0.95","s":152.5,"v":2.140},{"a":"α=0.95","s":157.5,"v":2.131},{"a":"α=0.95","s":162.5,"v":2.145},
    {"a":"α=0.95","s":167.5,"v":2.141},{"a":"α=0.95","s":172.5,"v":2.146},{"a":"α=0.95","s":177.5,"v":2.139},{"a":"α=0.95","s":182.5,"v":2.154},
    {"a":"α=0.95","s":187.5,"v":2.144},{"a":"α=0.95","s":192.5,"v":2.152},{"a":"α=0.95","s":197.5,"v":2.148},{"a":"α=0.95","s":202.5,"v":2.156},
    {"a":"α=0.95","s":207.5,"v":2.144},{"a":"α=0.95","s":212.5,"v":2.154},{"a":"α=0.95","s":217.5,"v":2.157},{"a":"α=0.95","s":222.5,"v":2.150},
    {"a":"α=0.95","s":227.5,"v":2.162},{"a":"α=0.95","s":232.5,"v":2.155},{"a":"α=0.95","s":237.5,"v":2.151},{"a":"α=0.95","s":242.5,"v":2.162},
    {"a":"α=0.95","s":247.5,"v":2.160},{"a":"α=0.95","s":252.5,"v":2.156},{"a":"α=0.95","s":257.5,"v":2.168},{"a":"α=0.95","s":262.5,"v":2.158},
    {"a":"α=0.95","s":267.5,"v":2.161},{"a":"α=0.95","s":272.5,"v":2.167},{"a":"α=0.95","s":277.5,"v":2.157},{"a":"α=0.95","s":282.5,"v":2.165},
    {"a":"α=0.95","s":287.5,"v":2.163},{"a":"α=0.95","s":292.5,"v":2.171},{"a":"α=0.95","s":297.5,"v":2.160},{"a":"α=0.95","s":302.5,"v":2.169},
    {"a":"α=0.95","s":307.5,"v":2.158},{"a":"α=0.95","s":312.5,"v":2.171},{"a":"α=0.95","s":317.5,"v":2.169},{"a":"α=0.95","s":322.5,"v":2.165},
    {"a":"α=0.95","s":327.5,"v":2.175},{"a":"α=0.95","s":332.5,"v":2.163},{"a":"α=0.95","s":337.5,"v":2.171},{"a":"α=0.95","s":342.5,"v":2.175},
    {"a":"α=0.95","s":347.5,"v":2.169},{"a":"α=0.95","s":352.5,"v":2.167},{"a":"α=0.95","s":357.5,"v":2.179},{"a":"α=0.95","s":362.5,"v":2.171},
    {"a":"α=0.95","s":367.5,"v":2.175},{"a":"α=0.95","s":372.5,"v":2.165},{"a":"α=0.95","s":377.5,"v":2.178},{"a":"α=0.95","s":382.5,"v":2.174},
    {"a":"α=0.95","s":387.5,"v":2.172}
  ]},
  "mark": {"type": "line", "strokeWidth": 7.5, "clip": true, "strokeJoin": "round", "strokeCap": "round"},
  "encoding": {
    "x": {
      "field": "s",
      "type": "quantitative",
      "scale": {"domain": [-18.6, 409], "nice": false, "zero": false},
      "axis": {
        "values": [0, 50, 100, 150, 200, 250, 300, 350, 400],
        "title": "step (x1000)",
        "labelPadding": 14,
        "titleX": 783,
        "titleY": 147,
        "titleBaseline": "alphabetic",
        "titleAlign": "center"
      }
    },
    "y": {
      "field": "v",
      "type": "quantitative",
      "scale": {"domain": [1.5, 2.2875], "nice": false, "zero": false},
      "axis": {
        "values": [1.6, 1.8, 2.0, 2.2],
        "format": ".1f",
        "title": "InfoNCE w.r.t. q",
        "labelPadding": 19,
        "titleX": -154,
        "titleY": 432.5,
        "titleAngle": -90,
        "titleBaseline": "alphabetic",
        "titleAlign": "center"
      }
    },
    "color": {
      "field": "a",
      "type": "nominal",
      "sort": null,
      "scale": {
        "domain": ["α=0.05", "α=0.2", "α=0.35", "α=0.5", "α=0.65", "α=0.8", "α=0.95"],
        "range": ["#000080", "#0010ff", "#00a8ff", "#46ffb0", "#b0ff46", "#ffb600", "#ff3000"]
      },
      "legend": {
        "title": null,
        "orient": "none",
        "legendX": 915,
        "legendY": 582,
        "direction": "horizontal",
        "columns": 2,
        "symbolType": "M-1.3,0H2.7",
        "symbolSize": 1764,
        "symbolStrokeWidth": 8,
        "labelFont": "DejaVu Sans",
        "labelFontSize": 41,
        "labelColor": "#000000",
        "labelOffset": 71,
        "labelLimit": 400,
        "columnPadding": 59,
        "rowPadding": 18,
        "padding": 14,
        "fillColor": "rgba(255,255,255,0.8)",
        "strokeColor": "#cccccc",
        "cornerRadius": 8
      }
    }
  }
}
